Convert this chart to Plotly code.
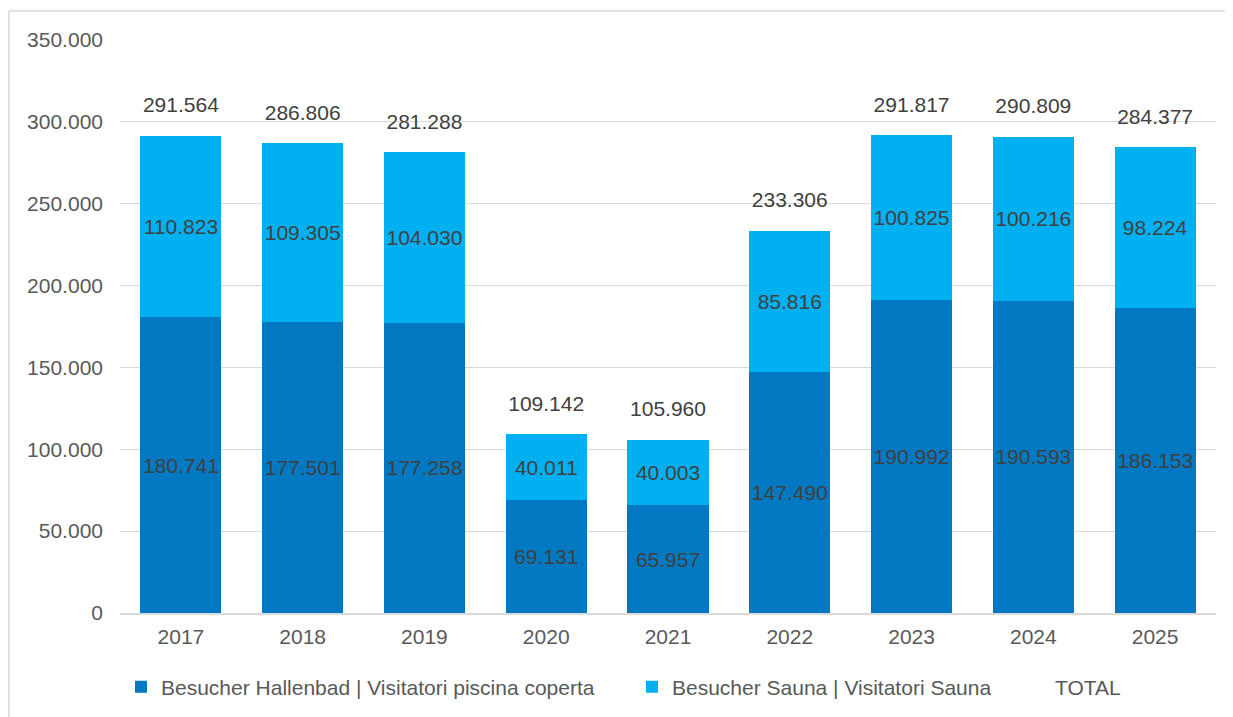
import plotly.graph_objects as go

years = ["2017", "2018", "2019", "2020", "2021", "2022", "2023", "2024", "2025"]
hallenbad = [180741, 177501, 177258, 69131, 65957, 147490, 190992, 190593, 186153]
sauna = [110823, 109305, 104030, 40011, 40003, 85816, 100825, 100216, 98224]
total = [291564, 286806, 281288, 109142, 105960, 233306, 291817, 290809, 284377]

names = ["Besucher Hallenbad | Visitatori piscina coperta",
         "Besucher Sauna | Visitatori Sauna", "TOTAL"]

def fmt(v):
    return f"{v:,}".replace(",", ".")

FONT = "Liberation Sans, Arial, sans-serif"
FS = 21
# page body has an 8px margin; plot area placed at screen x 120..1216, y 40..613
W, H = 1225, 709
L, R, T, B = 112, 17, 32, 104
PW = W - L - R
PH = H - T - B

def px(X):  # screen x -> paper x
    return (X - 8 - L) / PW

def py(Y):  # screen y -> paper y
    return (H - B - (Y - 8)) / PH

fig = go.Figure()
fig.add_trace(go.Bar(
    x=years, y=hallenbad, name=names[0], marker=dict(color="#0079C2", line=dict(width=0)),
    text=[fmt(v) for v in hallenbad], textposition="inside", insidetextanchor="middle",
    textfont=dict(size=FS, color="#404040", family=FONT), textangle=0, legend="legend",
))
fig.add_trace(go.Bar(
    x=years, y=sauna, name=names[1], marker=dict(color="#00B0F0", line=dict(width=0)),
    text=[fmt(v) for v in sauna], textposition="inside", insidetextanchor="middle",
    textfont=dict(size=FS, color="#404040", family=FONT), textangle=0, legend="legend2",
))
fig.add_trace(go.Scatter(
    x=years, y=total, name=names[2], mode="markers+text",
    marker=dict(size=28, color="rgba(0,0,0,0)"),
    text=[fmt(v) for v in total], textposition="top center",
    textfont=dict(size=FS, color="#404040", family=FONT), legend="legend3",
))

leg = dict(orientation="h", yanchor="middle", xanchor="left", bgcolor="rgba(0,0,0,0)",
           font=dict(size=FS, color="#595959", family=FONT), itemwidth=30)

fig.update_layout(
    width=W, height=H,
    barmode="stack", bargap=0.334,
    separators=",.",
    plot_bgcolor="white", paper_bgcolor="white",
    margin=dict(l=L, r=R, t=T, b=B, autoexpand=False),
    font=dict(family=FONT, size=FS, color="#595959"),
    showlegend=True,
    legend=dict(leg, x=px(121), y=py(687)),
    legend2=dict(leg, x=px(632), y=py(687)),
    legend3=dict(leg, x=px(1015), y=py(687)),
    uniformtext=dict(minsize=FS, mode="show"),
    shapes=[dict(type="rect", xref="paper", yref="paper",
                 x0=px(9), x1=px(1260), y0=py(760), y1=py(11),
                 line=dict(color="#D9D9D9", width=1.5), fillcolor="rgba(0,0,0,0)", layer="below")],
)
fig.update_yaxes(range=[0, 350000], dtick=50000, tickformat=",d", showgrid=True,
                 gridcolor="#D9D9D9", gridwidth=1, zeroline=False, showline=False,
                 ticks="", ticklabelstandoff=16, tickfont=dict(size=FS, color="#595959"))
fig.update_xaxes(range=[-0.5, len(years) - 0.5], showgrid=False, showline=True,
                 linecolor="#D9D9D9", linewidth=1.5, ticklabelstandoff=4,
                 ticks="", tickfont=dict(size=FS, color="#595959"))

fig.write_html("out.html")
